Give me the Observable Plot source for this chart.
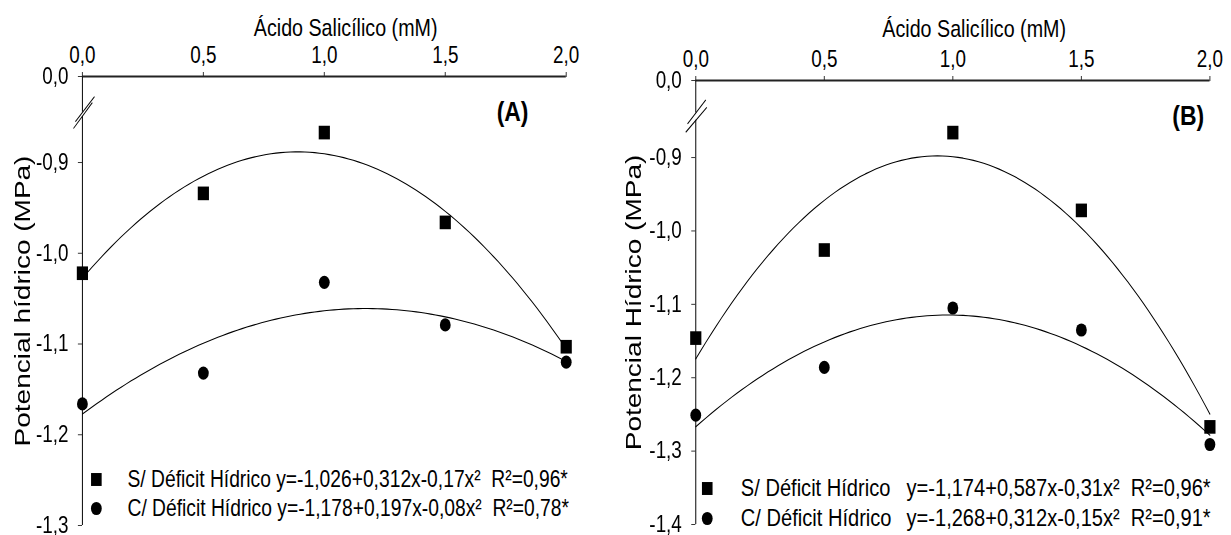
<!DOCTYPE html>
<html><head><meta charset="utf-8">
<script src="https://cdn.jsdelivr.net/npm/d3@7"></script>
<script src="https://cdn.jsdelivr.net/npm/@observablehq/plot@0.6"></script>
<style>
html,body{margin:0;padding:0;background:#fff;overflow:hidden;}
#wrap{display:flex;width:1501px;transform:scaleX(0.82);transform-origin:0 0;}
#wrap svg{display:block;}
</style></head><body><div id="wrap"></div>
<script>
// ---- data ----
const doses = [0, 0.5, 1.0, 1.5, 2.0];
const xTickLabels = ["0,0", "0,5", "1,0", "1,5", "2,0"];
const semA = [-1.022, -0.934, -0.867, -0.966, -1.103];
const comA = [-1.166, -1.132, -1.032, -1.079, -1.120];
const semB = [-1.146, -1.026, -0.866, -0.972, -1.267];
const comB = [-1.251, -1.186, -1.105, -1.135, -1.291];
const yTicksA = [-1.3, -1.2, -1.1, -1.0, -0.9];
const yTickLabelsA = ["-1,3", "-1,2", "-1,1", "-1,0", "-0,9"];
const yTicksB = [-1.4, -1.3, -1.2, -1.1, -1.0, -0.9];
const yTickLabelsB = ["-1,4", "-1,3", "-1,2", "-1,1", "-1,0", "-0,9"];
const topTickLabel = "0,0";
const seriesNames = ["S/ Déficit Hídrico", "C/ Déficit Hídrico"];
const eqA = ["y=-1,026+0,312x-0,17x²  R²=0,96*", "y=-1,178+0,197x-0,08x²  R²=0,78*"];
const eqB = ["y=-1,174+0,587x-0,31x²  R²=0,96*", "y=-1,268+0,312x-0,15x²  R²=0,91*"];
const xTitle = "Ácido Salicílico (mM)";
const yTitleA = "Potencial hídrico (MPa)";
const yTitleB = "Potencial Hídrico (MPa)";
const panelLabels = ["(A)", "(B)"];

// least-squares quadratic fit of the points (the original trend curves)
function fitQuad(xs, ys) {
  const S = k => d3.sum(xs, x => x ** k);
  const T = k => d3.sum(xs, (x, i) => x ** k * ys[i]);
  const M = [[S(0), S(1), S(2), T(0)], [S(1), S(2), S(3), T(1)], [S(2), S(3), S(4), T(2)]];
  for (let c = 0; c < 3; c++) {
    for (let r = c + 1; r < 3; r++) {
      const f = M[r][c] / M[c][c];
      for (let k = c; k < 4; k++) M[r][k] -= f * M[c][k];
    }
  }
  const b = [0, 0, 0];
  for (let r = 2; r >= 0; r--) {
    let s = M[r][3];
    for (let k = r + 1; k < 3; k++) s -= M[r][k] * b[k];
    b[r] = s / M[r][r];
  }
  return x => b[0] + b[1] * x + b[2] * x * x;
}
function curve(ys) {
  const f = fitQuad(doses, ys);
  return d3.range(0, 2.0001, 0.02).map(x => ({x, y: f(x)}));
}

const FONT = "'Liberation Sans', Arial, Helvetica, sans-serif";

function panel(o, eqs, eqDx) {
  const pts = ys => doses.map((x, i) => ({x, y: ys[i]}));
  const legend = [];
  [0, 1].forEach(i => {
    if (eqDx == null) {
      legend.push(Plot.text([seriesNames[i] + " " + eqs[i]], {frameAnchor: "bottom-left", dx: 55, dy: o.legDy[i], textAnchor: "start", lineAnchor: "middle", fontSize: o.legFs}));
    } else {
      legend.push(Plot.text([seriesNames[i]], {frameAnchor: "bottom-left", dx: 55, dy: o.legDy[i], textAnchor: "start", lineAnchor: "middle", fontSize: o.legFs}));
      legend.push(Plot.text([eqs[i]], {frameAnchor: "bottom-left", dx: eqDx, dy: o.legDy[i], textAnchor: "start", lineAnchor: "middle", fontSize: o.legFs}));
    }
  });
  return Plot.plot({
    width: o.width, height: 535,
    marginLeft: o.ml, marginRight: o.mr, marginTop: o.mt, marginBottom: o.mb,
    style: {fontFamily: FONT, fontSize: o.fs + "px", color: "black", background: "white", overflow: "visible"},
    x: {domain: [0, 2]},
    y: {domain: [o.yTicks[0], o.yTop]},
    marks: [
      Plot.ruleY([o.yTop], {stroke: "#222", strokeWidth: 2}),
      Plot.ruleX([{lo: o.yTicks[0], hi: o.gap[0]}, {lo: o.gap[1], hi: o.yTop}], {x: () => 0, y1: "lo", y2: "hi", stroke: "black", strokeWidth: 1.2}),
      Plot.link(o.breaks, {x1: d => d[0], y1: d => d[1], x2: d => d[2], y2: d => d[3], stroke: "black", strokeWidth: 1.1}),
      Plot.axisX({anchor: "top", ticks: doses, tickFormat: d => xTickLabels[doses.indexOf(d)], tickSize: 5, tickPadding: 9, label: null, fontSize: o.fs, stroke: "#222"}),
      Plot.axisY({anchor: "left", ticks: [...o.yTicks, o.yTop], tickFormat: d => d === o.yTop ? topTickLabel : o.yLabels[o.yTicks.indexOf(d)], tickSize: 5, tickPadding: 12, label: null, fontSize: o.fs, stroke: "#222"}),
      Plot.text([xTitle], {frameAnchor: "top", dx: o.titleDx, dy: o.titleDy, textAnchor: "middle", lineAnchor: "bottom", fontSize: o.fs + 1}),
      Plot.text([o.yTitle], {frameAnchor: "left", rotate: -90, dx: o.yTitleDx, textAnchor: "middle", lineAnchor: "middle", fontSize: 28}),
      Plot.text([o.label], {frameAnchor: "top-right", dx: o.labelDx, dy: o.labelDy, textAnchor: "end", lineAnchor: "middle", fontWeight: "bold", fontSize: 28}),
      Plot.line(curve(o.sem), {x: "x", y: "y", stroke: "black", strokeWidth: 1.1}),
      Plot.line(curve(o.com), {x: "x", y: "y", stroke: "black", strokeWidth: 1.1}),
      Plot.dot(pts(o.sem), {x: "x", y: "y", symbol: "square", r: 7.7, fill: "black"}),
      Plot.dot(pts(o.com), {x: "x", y: "y", symbol: "circle", r: 6.6, fill: "black"}),
      Plot.dot([seriesNames[0]], {frameAnchor: "bottom-left", dx: o.legMarkDx, dy: o.legDy[0], symbol: "square", r: 7.3, fill: "black"}),
      Plot.dot([seriesNames[1]], {frameAnchor: "bottom-left", dx: o.legMarkDx, dy: o.legDy[1], symbol: "circle", r: 6.6, fill: "black"}),
      ...legend
    ]
  });
}

const A = {
  width: 744, ml: 100, mr: 54, mt: 76, mb: 10, fs: 23, legFs: 23.5,
  yTicks: yTicksA, yLabels: yTickLabelsA, yTop: -0.8052,
  sem: semA, com: comA, yTitle: yTitleA, label: panelLabels[0],
  gap: [-0.849, -0.8447],
  breaks: [[-0.037, -0.8625, 0.041, -0.8339], [-0.029, -0.8548, 0.05, -0.8273]],
  titleDx: 26, titleDy: -41, yTitleDx: -73, labelDx: -46, labelDy: 36,
  legMarkDx: 17, legDy: [-46, -17]
};
const B = {
  width: 757, ml: 104, mr: 26, mt: 80, mb: 11, fs: 23, legFs: 24.5,
  yTicks: yTicksB, yLabels: yTickLabelsB, yTop: -0.795,
  sem: semB, com: comB, yTitle: yTitleB, label: panelLabels[1],
  gap: [-0.8493, -0.8394],
  breaks: [[-0.039, -0.8655, 0.043, -0.8315], [-0.032, -0.8541, 0.039, -0.8214]],
  titleDx: 26, titleDy: -44, yTitleDx: -76, labelDx: -7, labelDy: 36,
  legMarkDx: 14, legDy: [-36, -6]
};

const wrap = document.getElementById("wrap");
wrap.append(panel(A, eqA, null));
wrap.append(panel(B, eqB, 257));
</script>
</body></html>
